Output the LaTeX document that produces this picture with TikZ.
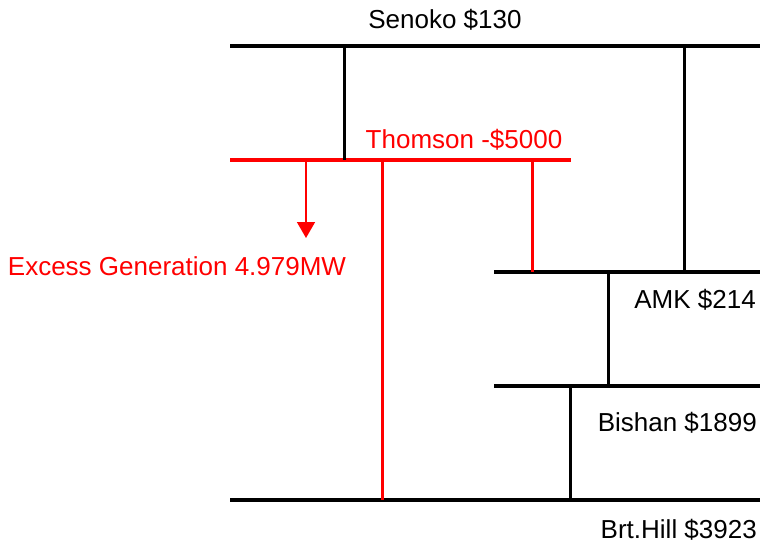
\documentclass[tikz,border=0pt]{standalone}
\usepackage{fontspec}
\setmainfont{Liberation Sans}
\usetikzlibrary{arrows.meta}
\begin{document}
\begin{tikzpicture}[x=1pt, y=-1pt, >=Triangle,
  bus/.style={line width=3.2pt},
  tie/.style={line width=3pt},
  lbl/.style={font=\fontsize{26}{29}\selectfont, inner sep=0pt}]
  \useasboundingbox (0,0) rectangle (761,544);
  % bus ends
  \coordinate (senW) at (230,46);  \coordinate (senE) at (760,46);
  \coordinate (thoW) at (230,160); \coordinate (thoE) at (571,160);
  \coordinate (amkW) at (494,272); \coordinate (amkE) at (760,272);
  \coordinate (bisW) at (494,386); \coordinate (bisE) at (760,386);
  \coordinate (brtW) at (230,500); \coordinate (brtE) at (760,500);
  % buses
  \draw[bus] (senW) -- (senE);
  \draw[bus, red] (thoW) -- (thoE);
  \draw[bus] (amkW) -- (amkE);
  \draw[bus] (bisW) -- (bisE);
  \draw[bus] (brtW) -- (brtE);
  % ties
  \coordinate (t1) at (344,46);  \draw[tie] (t1) -- (t1 |- thoW);
  \coordinate (t2) at (684,46);  \draw[tie] (t2) -- (t2 |- amkW);
  \coordinate (t3) at (382,160); \draw[tie, red] (t3) -- (t3 |- brtW);
  \coordinate (t4) at (532,160); \draw[tie, red] (t4) -- (t4 |- amkW);
  \coordinate (t5) at (608,272); \draw[tie] (t5) -- (t5 |- bisW);
  \coordinate (t6) at (570,386); \draw[tie] (t6) -- (t6 |- brtW);
  % excess generation
  \coordinate (ex) at (306,160); \coordinate (exEnd) at (306,238);
  \draw[red, line width=1.6pt, -{Triangle[width=18pt,length=16pt]}] (ex) -- (exEnd);
  % labels
  \node[lbl] (senoko) at (445,20) {Senoko \$130};
  \node[lbl, red] (thomson) at (464,140) {Thomson -\$5000};
  \node[lbl, red] (excess) at (177,266) {Excess Generation 4.979MW};
  \node[lbl, anchor=east] (amk) at (756,300) {AMK \$214};
  \node[lbl, anchor=east] (bishan) at (757,423) {Bishan \$1899};
  \node[lbl, anchor=east] (brthill) at (757,530) {Brt.Hill \$3923};
\end{tikzpicture}
\end{document}
